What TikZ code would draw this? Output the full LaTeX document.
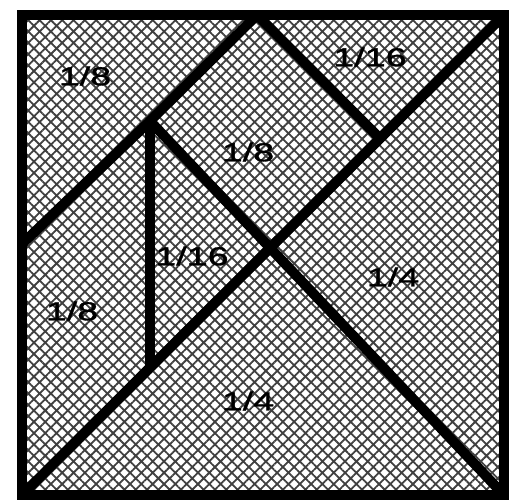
\documentclass[tikz,border=0pt]{standalone}
\usepackage{fontspec}
\newfontfamily\fraclabel[FakeStretch=1.45,FakeBold=1.2]{Liberation Sans}
\usetikzlibrary{patterns.meta}

\begin{document}
\begin{tikzpicture}[
    x=1pt, y=-1pt,
    cut/.style={line width=10pt, draw=black},
    piece/.style={pattern={Hatch[angle=45,distance=8pt,line width=1.8pt]}, pattern color=black!75},
    frac/.style={font=\fraclabel\fontsize{26}{26}\selectfont, inner sep=0pt, text=black},
  ]
  \useasboundingbox (0,0) rectangle (509,501);
  % corners of the square
  \coordinate (bl) at (22,495);
  \coordinate (tl) at (22,15);
  \coordinate (tr) at (504,15);
  \coordinate (br) at (504,495);
  % where the cuts meet
  \coordinate (lft) at (22,244);
  \coordinate (top) at (257,15);
  \coordinate (pk) at (150,121);
  \coordinate (sq) at (380,138.5);
  \coordinate (low) at (150,367.5);

  \fill[white] (bl) rectangle (tr);
  \fill[piece] (bl) rectangle (tr);

  \draw[cut] (bl) -- (tr);
  \draw[cut] (lft) -- (pk) -- (top);
  \draw[cut] (pk) -- (br);
  \draw[cut] (pk) -- (low);
  \draw[cut] (top) -- (sq);
  \draw[cut] (bl) rectangle (tr);

  \node[frac] (tri1) at (85,76) {1/8};
  \node[frac] (tri2) at (370,57) {1/16};
  \node[frac] (sqr) at (248,152) {1/8};
  \node[frac] (tri3) at (192,256) {1/16};
  \node[frac] (tri4) at (393,277) {1/4};
  \node[frac] (para) at (72,311) {1/8};
  \node[frac] (tri5) at (248,401) {1/4};
\end{tikzpicture}
\end{document}
